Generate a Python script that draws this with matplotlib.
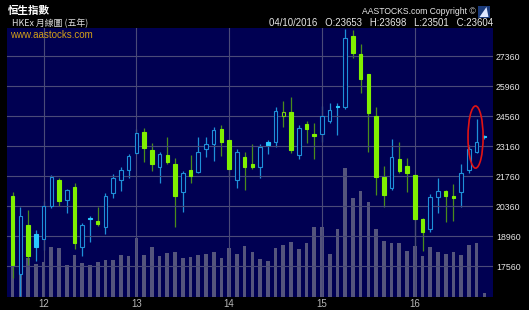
import matplotlib
matplotlib.use("Agg")
import matplotlib.pyplot as plt
from matplotlib.patches import Ellipse, Polygon

# ---------------- data (monthly HSI candles, Sep 2011 .. Oct 2016) ----------------
opens = [20850, 17195, 19500, 19080, 18830, 20380, 21610, 20660, 21280, 18480,
         19840, 19680, 19420, 20980, 21600, 22060, 22870, 23840, 23000, 22220,
         22760, 22340, 21050, 22060, 21970, 23030, 23260, 23980, 23460, 21600,
         22670, 22340, 22220, 23380, 23360, 24600, 24770, 22750, 24210, 23730,
         23740, 24350, 25050, 24990, 28320, 27460, 26530, 24580, 21750, 21210,
         22580, 22260, 21830, 19760, 19300, 20820, 21100, 20850, 21020, 22060,
         22890, 23653]
highs = [21050, 20320, 20200, 19260, 20620, 21820, 21690, 21160, 21440, 19580,
         19920, 20350, 20980, 21880, 22190, 22800, 23960, 24020, 23340, 22920,
         23590, 22610, 22020, 22760, 23620, 23620, 24060, 24160, 23510, 23030,
         22900, 23280, 23260, 23460, 24990, 25280, 25460, 24160, 24350, 24240,
         25060, 25180, 25180, 28630, 28600, 27940, 26530, 24990, 22250, 23510,
         23380, 22640, 21880, 19810, 20940, 21680, 21130, 21410, 22340, 23230,
         24440, 23698]
lows = [17010, 16200, 17630, 17830, 18330, 20280, 20380, 20070, 18380, 18050,
        18720, 19450, 19080, 20770, 21100, 21700, 22800, 22450, 22020, 21440,
        22330, 19420, 20120, 21470, 21900, 22680, 22500, 22730, 21750, 21240,
        21130, 22110, 21700, 22810, 23150, 24080, 22870, 22580, 23310, 22580,
        23360, 24240, 23700, 24900, 27280, 25640, 22920, 20900, 20350, 21130,
        21910, 21050, 18520, 18280, 19160, 20070, 19620, 19700, 20320, 21910,
        22850, 23501]
closes = [17630, 19920, 18050, 18480, 20400, 21720, 20630, 21120, 18670, 19480,
          19760, 19540, 20860, 21690, 22060, 22720, 23800, 23100, 22340, 22800,
          22420, 20850, 21910, 21800, 22900, 23280, 23930, 23360, 22100, 22890,
          22190, 22180, 23120, 23230, 24810, 24760, 23000, 24040, 23990, 23660,
          24600, 24860, 24990, 28210, 27510, 26310, 24710, 21720, 20900, 22680,
          22000, 21920, 19760, 19180, 20790, 21100, 20850, 20760, 21910, 23030,
          23360, 23604]
# volume bars (relative heights)
volumes = [49, 50, 39, 33, 35, 50, 49, 32, 42, 34, 32, 35, 37, 37, 42, 41, 59, 42,
           50, 41, 44, 45, 39, 40, 42, 43, 45, 39, 49, 43, 51, 45, 38, 36, 49, 52,
           55, 48, 54, 70, 70, 43, 68, 129, 99, 106, 95, 68, 56, 54, 54, 46, 51,
           41, 50, 45, 43, 45, 42, 52, 54, 4]
year_pos = [4, 16, 28, 40, 52]
year_labels = ["12", "13", "14", "15", "16"]
price_ticks = [17560, 18960, 20360, 21760, 23160, 24560, 25960, 27360]

title_cn = "恒生指數"
subtitle = "HKEx 月線圖 (五年)"
site = "www.aastocks.com"
copyright_txt = "AASTOCKS.com Copyright ©"
quote_txt = "04/10/2016   O:23653   H:23698   L:23501   C:23604"

# ---------------- styling ----------------
W, H = 529, 310
NAVY = "#000052"
GRID = "#4a4a78"
VOLC = "#55557c"
BLUE_EDGE = "#1e90d8"
BLUE_FILL = "#28c8ff"
GREEN_FILL = "#80f000"
GREEN_WICK = "#4a8c1c"

fig = plt.figure(figsize=(W / 100, H / 100), dpi=100, facecolor="black")
l, r, t, b = 7.3, 493.5, 28.3, 296.7
rect = [l / W, 1 - b / H, (r - l) / W, (b - t) / H]

axv = fig.add_axes(rect)
axv.set_facecolor(NAVY)
ax = fig.add_axes(rect, sharex=axv)
ax.patch.set_visible(False)

n = len(closes)
xs = list(range(n))

# volume
axv.bar(xs, volumes, width=0.47, color=VOLC, zorder=1)
axv.set_ylim(0, b - t)
axv.set_yticks([])
axv.tick_params(axis="x", length=0)
for s in axv.spines.values():
    s.set_visible(False)

# candles
for i in xs:
    o, h, lo, c = opens[i], highs[i], lows[i], closes[i]
    up_vs_prev = (i > 0 and c >= closes[i - 1])
    filled = c < o
    if up_vs_prev:
        wick = BLUE_EDGE
        edge = BLUE_FILL if filled else BLUE_EDGE
        face = BLUE_FILL if filled else NAVY
    else:
        wick = GREEN_WICK
        edge = GREEN_FILL if filled else "#78d010"
        face = GREEN_FILL if filled else NAVY
    ax.vlines(i, lo, h, color=wick, lw=0.9, zorder=2)
    ax.bar(i, max(abs(c - o), 30), bottom=min(o, c), width=0.46,
           facecolor=face, edgecolor=edge, lw=0.8, zorder=3)

ax.set_xlim(-0.69, 62.18)
ax.set_ylim(16150, 28676)
ax.set_yticks(price_ticks)
ax.set_xticks(year_pos)
ax.set_xticklabels(year_labels, fontsize=7, color="#b8b8b8", family="Liberation Sans")
ax.yaxis.tick_right()
ax.set_yticklabels([str(v) for v in price_ticks], fontsize=6.3, color="#e6e6e6",
                   family="Liberation Sans")
ax.tick_params(axis="both", length=0)
ax.tick_params(axis="x", pad=1.8)
ax.tick_params(axis="y", pad=1.8)
ax.grid(True, color=GRID, lw=0.8, zorder=1.5)
ax.set_axisbelow(False)
for s in ax.spines.values():
    s.set_visible(False)
axv.xaxis.set_visible(False)

# red highlight ellipse around the latest full month
ax.add_patch(Ellipse((59.86, 23600), 1.95, 2900, fill=False, edgecolor="#e01414",
                     lw=1.2, zorder=5))

# ---------------- texts ----------------
def fx(px):
    return px / W

def fy(py):
    return 1 - py / H

cjk = ["Noto Sans CJK TC", "DejaVu Sans"]
fig.text(fx(8), fy(11), title_cn, fontsize=7.6, fontweight="bold", color="white",
         family=cjk, va="center", ha="left")
fig.text(fx(12.5), fy(23.5), subtitle, fontsize=6.4, color="#e0e0e0",
         family=cjk, va="center", ha="left")
ax.text(0.006, 0.975, site, transform=ax.transAxes, fontsize=7,
        color="#d4a017", family="Liberation Sans", va="center", ha="left", zorder=6)
fig.text(fx(476), fy(12), copyright_txt, fontsize=6.2, color="#e8e8e8",
         family="Liberation Sans", va="center", ha="right")
fig.text(fx(493), fy(23), quote_txt, fontsize=6.9, color="#e8e8e8",
         family="Liberation Sans", va="center", ha="right")

# small logo mark
logo_bg = Polygon([(fx(478), fy(18)), (fx(490), fy(18)), (fx(490), fy(6)), (fx(478), fy(6))],
                  closed=True, transform=fig.transFigure, facecolor="#1a3a7a",
                  edgecolor="none")
logo_tri = Polygon([(fx(479.5), fy(17)), (fx(488.5), fy(17)), (fx(486.5), fy(7))],
                   closed=True, transform=fig.transFigure, facecolor="#dfe8ff",
                   edgecolor="none")
fig.patches.extend([logo_bg, logo_tri])

fig.savefig("out.png", dpi=100, facecolor="black")
